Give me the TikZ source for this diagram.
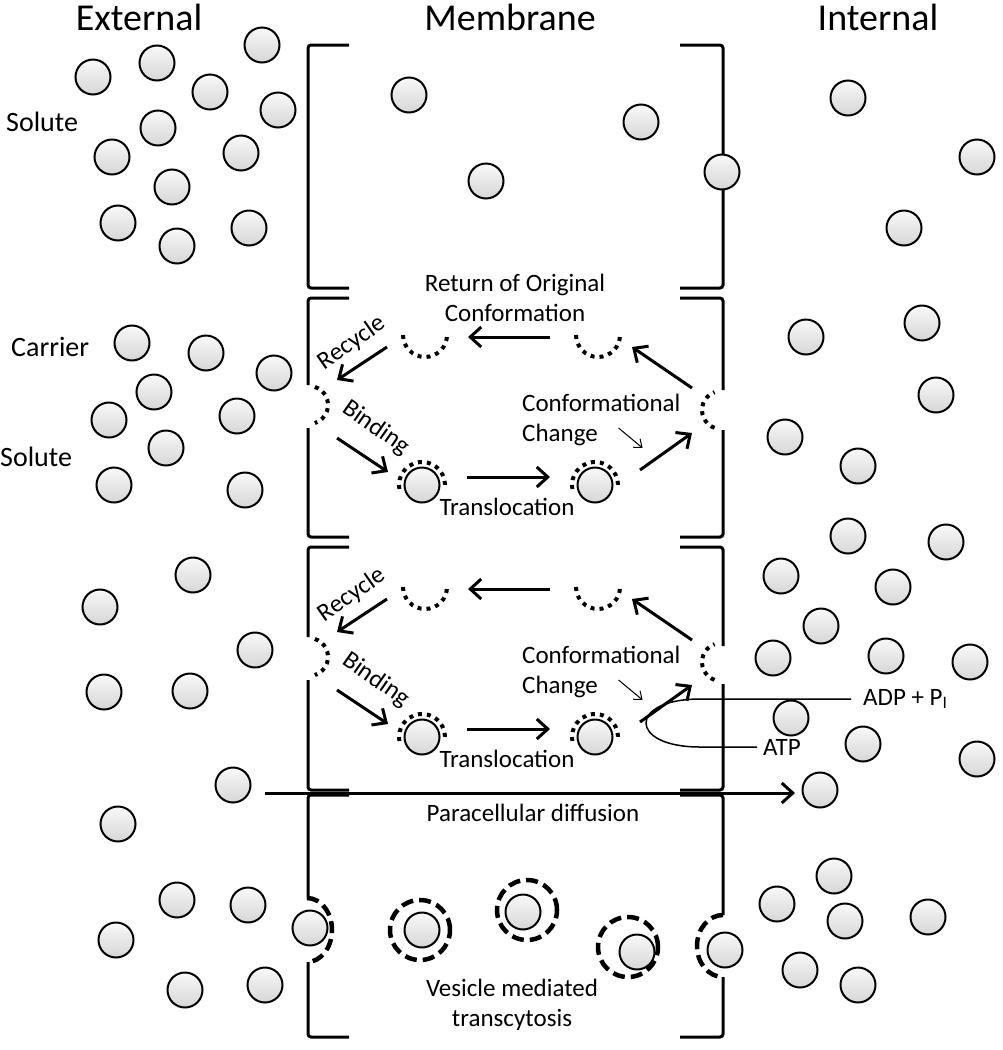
\documentclass[tikz,border=0pt]{standalone}
\usepackage{fontspec}
\setmainfont{Carlito}
\usetikzlibrary{arrows.meta}
\tikzstyle{soluto} = [circle, draw=black, line width=2pt, minimum size=35pt, inner sep=0pt, top color=gray!5, bottom color=gray!32]
\tikzstyle{transp} = [line width=4pt, dash pattern=on 4pt off 5pt]
\tikzstyle{anel} = [circle, draw=black, line width=4.5pt, dash pattern=on 12pt off 6pt, minimum size=60pt, inner sep=0pt]
\tikzstyle{vesic} = [line width=4.5pt, dash pattern=on 12pt off 6pt]
\tikzstyle{membrana} = [line width=3pt, rounded corners=3pt]
\tikzstyle{seta} = [line width=3pt, -{Straight Barb[length=11pt,width=20pt]}]
\tikzstyle{setafina} = [line width=1pt, -{Straight Barb[length=7pt,width=11pt]}]
\tikzstyle{rotulo} = [font=\fontsize{25}{30}\selectfont, inner sep=0pt]
\tikzstyle{lateral} = [font=\fontsize{28}{32}\selectfont, inner sep=0pt, anchor=west]
\tikzstyle{titulo} = [font=\fontsize{38}{42}\selectfont, inner sep=0pt]

\begin{document}
\begin{tikzpicture}[x=1pt, y=-1pt]
        \useasboundingbox (0,0) rectangle (1003,1050);
        % Títulos
        \node[titulo] (ext) at (139,17) {External};
        \node[titulo] (mem) at (510,17) {Membrane};
        \node[titulo] (int) at (878,17) {Internal};
        % Rótulos laterais
        \node[lateral] (sol1) at (6,122) {Solute};
        \node[lateral] (carr) at (11,347) {Carrier};
        \node[lateral] (sol2) at (0,457) {Solute};
        % Membrana: difusão livre
        \draw[membrana] (349,45) -| (308,288) -- (349,288);
        \draw[membrana] (680,45) -| (723,288) -- (680,288);
        % Membrana: transportadores
        \draw[membrana] (308,385) |- (349,298);
        \draw[membrana] (308,428) |- (349,537);
        \draw[membrana] (723,390) |- (680,298);
        \draw[membrana] (723,430) |- (680,537);
        \draw[membrana] (308,637) |- (349,547);
        \draw[membrana] (308,680) |- (349,790);
        \draw[membrana] (723,646) |- (680,547);
        \draw[membrana] (723,684) |- (680,790);
        % Membrana: vesículas
        \draw[membrana] (308,898) |- (349,795);
        \draw[membrana] (308,962) |- (349,1037);
        \draw[membrana] (723,915) |- (680,795);
        \draw[membrana] (723,977) |- (680,1037);
        % Solutos livres
        \foreach \x/\y [count=\i] in {93/77,157/63,262/45,210/92,278/110,158/128,112/157,241/153,172/187,118/223,177/246,249/228,
            409/95,486/181,641/122,722/172,848/98,977/157,904/228,
            132/343,206/353,274/373,154/392,109/420,237/416,166/448,114/485,245/490,
            806/337,922/323,936/395,785/437,858/466,848/536,946/542,781/576,893/587,821/626,773/658,886/656,970/662,791/718,863/744,977/759,
            193/575,100/607,255/650,104/692,190/691,118/824,
            177/900,248/905,116/940,185/990,265/985,834/876,777/904,845/921,928/917,800/970,858/985}
            \node[soluto] (s\i) at (\x,\y) {};
        % Ciclo do transportador (duas vezes)
        \foreach \dy/\s in {0/a,252/b}{
        \begin{scope}[shift={(0,\dy)}]
            \coordinate (cL\s) at (309,405);
            \coordinate (cTL\s) at (425,335);
            \coordinate (cTR\s) at (598,335);
            \coordinate (cR\s) at (721,410);
            \node[soluto] (b1\s) at (422,485) {};
            \node[soluto] (b2\s) at (595,485) {};
            \draw[transp] (cL\s) ++(-72:19) arc[start angle=-72, end angle=72, radius=19];
            \draw[transp] (cR\s) ++(110:19) arc[start angle=110, end angle=250, radius=19];
            \draw[transp] (cTL\s) ++(180:22) arc[start angle=180, end angle=0, radius=22];
            \draw[transp] (cTR\s) ++(180:22) arc[start angle=180, end angle=0, radius=22];
            \draw[transp] (b1\s.center) ++(170:23) arc[start angle=170, end angle=370, radius=23];
            \draw[transp] (b2\s.center) ++(170:23) arc[start angle=170, end angle=370, radius=23];
            % Setas do ciclo
            \draw[seta] ([shift={(-48,2)}]cTR\s) -- ([shift={(43,2)}]cTL\s);
            \draw[seta] ([shift={(-29,-22)}]cR\s) -- ([shift={(34,12)}]cTR\s);
            \draw[seta] ([shift={(-38,12)}]cTL\s) -- ([shift={(28,-25)}]cL\s);
            \draw[seta] ([shift={(28,33)}]cL\s) -- ([shift={(-34,-13)}]b1\s.center);
            \draw[seta] ([shift={(45,-8)}]b1\s.center) -- ([shift={(-45,-8)}]b2\s.center);
            \draw[seta] ([shift={(45,-15)}]b2\s.center) -- ([shift={(-29,23)}]cR\s);
            % Rótulos do ciclo
            \node[rotulo, rotate=35] (rec\s) at (352,343) {Recycle};
            \node[rotulo, rotate=-35] (bin\s) at (376,428) {Binding};
            \node[rotulo] (tra\s) at (507,507) {Translocation};
            \node[rotulo, align=left, anchor=west] (conf\s) at (522,420) {Conformational\\Change};
            \draw[setafina] ([shift={(-62,8)}]conf\s.east) -- ++(24,20);
        \end{scope}}
        \node[rotulo, align=center] (ret) at (515,298) {Return of Original\\Conformation};
        % ATP
        \node[rotulo, anchor=west] (adp) at (863,699) {ADP + P\textsubscript{I}};
        \node[rotulo, anchor=west] (atp) at (763,747) {ATP};
        \draw[line width=1.5pt] ([xshift=-6pt]atp.west) -- (700,747) .. controls (628,747) and (628,699) .. (700,699) -- ([xshift=-12pt]adp.west);
        % Difusão paracelular
        \node[soluto] (par1) at (233,785) {};
        \node[soluto] (par2) at (820,790) {};
        \draw[seta] ([shift={(32,8)}]par1.center) -- ([shift={(-25,3)}]par2.center);
        \node[rotulo] (parl) at (533,813) {Paracellular diffusion};
        % Transcitose por vesículas
        \node[soluto] (v0) at (310,928) {};
        \draw[vesic] (307,898) arc[start angle=-90, end angle=90, x radius=25, y radius=32];
        \node[anel] (a1) at (420,930) {};
        \node[soluto] (v1) at (422,930) {};
        \node[anel] (a2) at (527,910) {};
        \node[soluto] (v2) at (523,912) {};
        \node[anel] (a3) at (628,947) {};
        \node[soluto] (v3) at (637,952) {};
        \node[soluto] (v4) at (725,950) {};
        \draw[vesic] (723,915) arc[start angle=-90, end angle=-270, x radius=26, y radius=31];
        \node[rotulo, align=center] (ves) at (512,1005) {Vesicle mediated\\transcytosis};
\end{tikzpicture}
\end{document}
